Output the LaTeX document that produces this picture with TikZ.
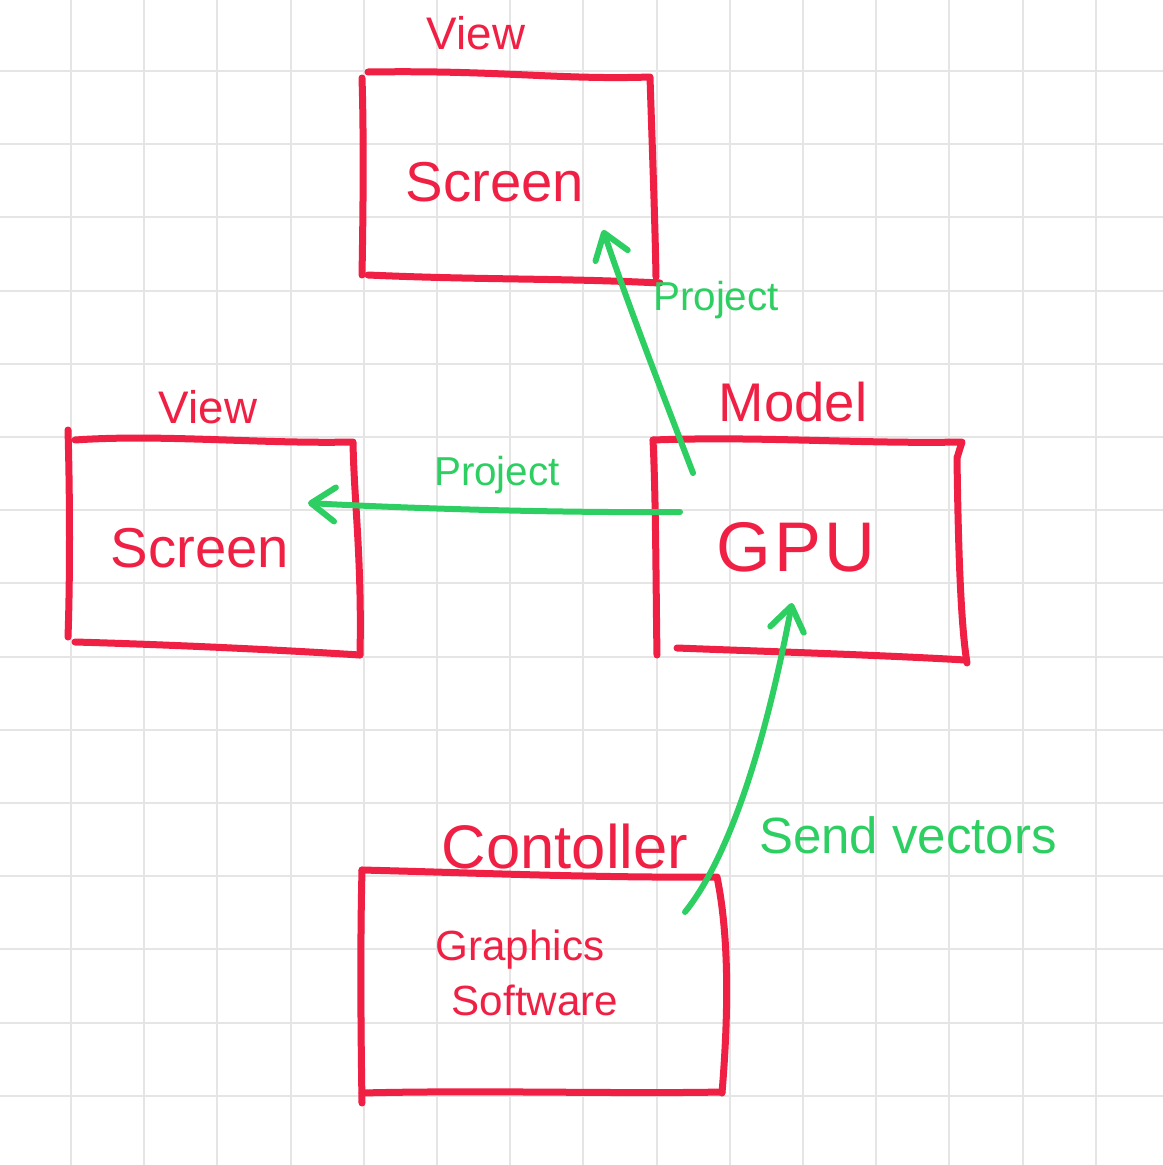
\documentclass[tikz,border=0pt]{standalone}
\usepackage{fontspec}
\setmainfont{Liberation Sans}
\usetikzlibrary{arrows.meta}
\definecolor{pred}{RGB}{240,32,68}
\definecolor{pgreen}{RGB}{46,207,98}
\definecolor{gridc}{RGB}{229,229,229}
\tikzset{
  redbox/.style={draw=pred, line width=0.7mm, line cap=round, line join=round},
  greenarrow/.style={draw=pgreen, line width=0.6mm, line cap=round,
    -{Straight Barb[length=2.4mm,width=3.4mm,round]}},
  redtxt/.style={text=pred, inner sep=0pt, anchor=center},
  greentxt/.style={text=pgreen, inner sep=0pt, anchor=center},
}
\newcommand{\fs}[1]{\fontsize{#1}{#1}\selectfont}
\begin{document}
\begin{tikzpicture}[x=0.1mm,y=-0.1mm]
\useasboundingbox (0,0) rectangle (1163,1165);
\fill[white] (0,0) rectangle (1163,1165);
% grid
\foreach \i in {0,...,14}{
  \draw[gridc, line width=0.2mm] ({71+73.2*\i},0) -- ({71+73.2*\i},1165);
  \draw[gridc, line width=0.2mm] (0,{71+73.2*\i}) -- (1163,{71+73.2*\i});
}
% top view box
\draw[redbox] (368,72) .. controls (500,70) and (560,80) .. (650,77) .. controls (652,140) and (655,220) .. (656,277);
\draw[redbox] (362,78) .. controls (364,140) and (363,220) .. (362,275);
\draw[redbox] (368,275) .. controls (480,280) and (560,278) .. (660,283);
% left view box
\draw[redbox] (68,430) .. controls (70,500) and (70,580) .. (68,637);
\draw[redbox] (75,440) .. controls (160,434) and (260,444) .. (353,442) .. controls (354,500) and (362,560) .. (360,655);
\draw[redbox] (75,642) .. controls (180,645) and (280,650) .. (360,655);
% model box
\draw[redbox] (653,440) .. controls (760,436) and (860,444) .. (962,442) -- (957,458) .. controls (958,530) and (960,620) .. (967,663);
\draw[redbox] (653,440) .. controls (656,500) and (656,600) .. (657,655);
\draw[redbox] (677,648) .. controls (780,652) and (880,655) .. (965,660);
% controller box
\draw[redbox] (362,870) .. controls (480,873) and (600,878) .. (717,877) .. controls (730,940) and (728,1020) .. (722,1093);
\draw[redbox] (362,870) .. controls (360,950) and (361,1040) .. (362,1103);
\draw[redbox] (362,1093) .. controls (480,1090) and (620,1094) .. (722,1092);
% labels
\node[redtxt] (v1) at (476,33) {\fs{13}View};
\node[redtxt] (s1) at (495,182) {\fs{16}Screen};
\node[redtxt] (v2) at (208,407) {\fs{13}View};
\node[redtxt] (s2) at (200,548) {\fs{16}Screen};
\node[redtxt] (mo) at (793,402) {\fs{15.5}Model};
\node[redtxt] (gpu) at (796,547) {\fs{20}G\kern1pt P\kern1pt U};
\node[redtxt] (co) at (565,847) {\fs{17.5}Contoller};
\node[redtxt] (gr) at (520,950) {\fs{12}Graphics};
\node[redtxt] (sw) at (535,1000) {\fs{12}Software};
\node[greentxt] (p1) at (716,300) {\fs{11.5}Project};
\node[greentxt] (p2) at (497,475) {\fs{11.5}Project};
\node[greentxt] (sv) at (908,835) {\fs{14.5}Send vectors};
% connectors
\coordinate (a1s) at (693,473);
\coordinate (a1e) at (603,230);
\coordinate (a2s) at (680,512);
\coordinate (a2e) at (308,503);
\coordinate (a3s) at (685,912);
\coordinate (a3e) at (792,603);
\draw[greenarrow] (a1s) .. controls (665,400) and (630,310) .. (a1e);
\draw[greenarrow] (a2s) .. controls (550,513) and (400,508) .. (a2e);
\draw[greenarrow] (a3s) .. controls (735,850) and (770,720) .. (a3e);
\end{tikzpicture}
\end{document}
